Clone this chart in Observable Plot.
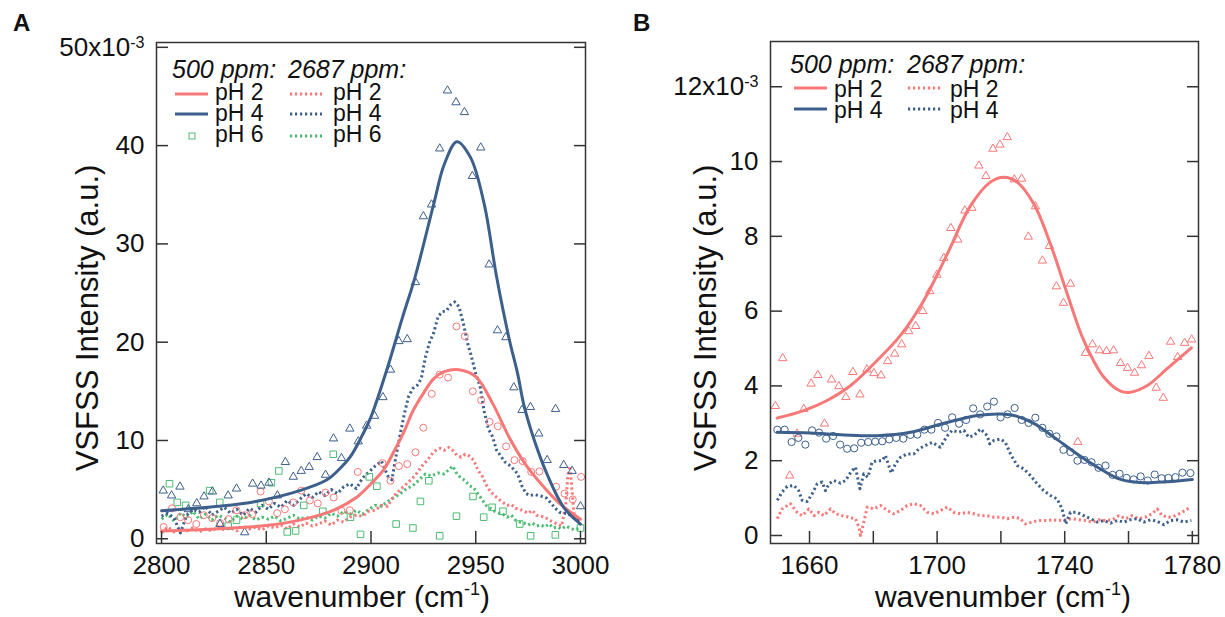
<!DOCTYPE html>
<html><head><meta charset="utf-8">
<script src="https://cdn.jsdelivr.net/npm/d3@7"></script>
<script src="https://cdn.jsdelivr.net/npm/@observablehq/plot@0.6"></script>
<style>
body{margin:0;background:#fff;}
#wrap{position:relative;width:1225px;height:617px;overflow:hidden;background:#fff;}
#wrap svg{position:absolute;top:0;overflow:visible;}
</style></head><body><div id="wrap"></div>
<script>
// ================= DATA (intensities in units of 10^-3 a.u.) =================
// ---- Panel A : 2800-3000 cm-1 ----
const aXTicks = [2800, 2850, 2900, 2950, 3000];
const aYTicks = [0, 10, 20, 30, 40, 50];
const aYTickLabels = ["0", "10", "20", "30", "40", "50x10"];
// 500 ppm fits (solid)
const aFitPH2 = [[2800,0.8],[2825,1.0],[2850,1.35],[2866,1.9],[2882,2.9],[2893,4.2],[2900,5.6],[2906,7.0],[2911,8.9],[2916,11.0],[2920,13.0],[2925,14.8],[2930,16.3],[2935,17.0],[2942,17.2],[2950,16.5],[2958,13.8],[2966,10.3],[2974,7.5],[2982,5.4],[2990,3.6],[3000,2.0]];
const aFitPH4 = [[2800,2.85],[2827,3.3],[2845,3.8],[2866,4.9],[2879,6.0],[2884,6.9],[2890,8.3],[2896,10.6],[2900,12.4],[2908,17.5],[2915,22.5],[2921,26.6],[2930,34.1],[2935,38.1],[2941,40.4],[2947.5,38.8],[2954,34.1],[2960,26.6],[2966,20.3],[2970,16.8],[2973,13.6],[2978,10.0],[2984,6.6],[2992,3.2],[3000,1.5]];
// 500 ppm measured points
const aPtsPH2 = [[2801,1.2],[2805,3.1],[2809,2.2],[2812.7,1.9],[2816.6,1.5],[2820.2,2.4],[2824.2,2.1],[2828,1.6],[2832,2.0],[2835.8,2.9],[2839.8,2.4],[2843.3,2.5],[2847.3,4.8],[2851.3,3.8],[2855.2,2.6],[2858.9,3.0],[2862.9,3.7],[2866.7,4.9],[2870.8,3.9],[2874.6,3.6],[2878.3,4.7],[2882.2,4.2],[2885.9,2.85],[2889.9,2.9],[2893.7,6.8],[2905.5,7.7],[2909.3,5.9],[2913.3,7.4],[2917.3,7.6],[2921.2,8.8],[2925,11.3],[2929,14.75],[2932.8,16.7],[2936.8,16.4],[2940.8,21.6],[2944.8,20.6],[2948.6,15.0],[2952.6,14.1],[2956.6,11.9],[2960.5,11.45],[2964.5,9.4],[2968.5,8.0],[2972.4,7.9],[2976.5,6.8],[2980.4,6.85],[2988.4,5.3],[2992.4,4.6],[2996.3,4.0],[3000.3,6.3]];
const aPtsPH4 = [[2800.8,4.9],[2804.8,4.4],[2808.8,5.3],[2812.8,3.0],[2816.8,3.6],[2820.3,4.3],[2824.3,4.8],[2827.9,1.5],[2831.8,4.4],[2835.8,5.1],[2839.7,0.65],[2843.5,5.6],[2847.5,5.4],[2851.3,5.7],[2855.3,4.4],[2859.1,7.8],[2862.9,6.3],[2866.7,6.9],[2870.5,7.3],[2874.3,8.3],[2878.3,6.5],[2882.1,10.2],[2885.9,8.2],[2889.9,11.2],[2893.9,9.9],[2897.9,11.5],[2901.7,12.5],[2905.7,14.4],[2909.3,17.2],[2913.3,20.1],[2917.3,20.3],[2921.2,26.1],[2925,32.8],[2928.9,34.0],[2932.8,39.7],[2936.5,45.6],[2940.6,44.4],[2944.6,43.4],[2948.4,36.9],[2952.4,39.8],[2956.4,27.9],[2960.4,21.2],[2964.4,20.5],[2968.2,15.4],[2972.1,13.1],[2976.1,13.4],[2980.1,10.7],[2984.1,8.0],[2988.1,13.2],[2992,7.5],[2996,6.9],[3000,3.3]];
const aPtsPH6 = [[2803.8,5.6],[2807.5,3.7],[2811.5,3.4],[2823,4.9],[2827.8,3.7],[2831.8,1.3],[2835.8,1.9],[2847.3,3.6],[2852.5,5.7],[2856,6.9],[2860,0.7],[2864,0.8],[2867.9,3.4],[2877,2.8],[2882,8.6],[2890.2,2.2],[2895,0.45],[2899.2,6.3],[2902.8,5.35],[2912,1.5],[2920,1.1],[2923.6,3.8],[2927.6,5.9],[2932.8,0.3],[2940.8,2.3],[2948.7,4.3],[2953.8,2.2],[2957.8,3.2],[2963,2.8],[2971,1.5],[2976.2,0.3],[2988,0.4],[3000,1.1]];
// 2687 ppm traces (dotted)
const aDotPH2 = [[2800,0.6],[2803,1.2],[2806,0.7],[2809,1.0],[2812,0.8],[2815,1.1],[2818,0.7],[2821,1.0],[2824,0.8],[2827,1.2],[2830,0.9],[2833,1.1],[2836,0.8],[2839,1.3],[2842,1.0],[2845,1.2],[2848,0.9],[2851,1.3],[2854,1.1],[2857,1.4],[2860,1.0],[2863,1.5],[2866,1.2],[2869,1.6],[2872,1.3],[2875,1.5],[2878,1.8],[2881,1.4],[2884,1.9],[2887,1.7],[2890,2.2],[2893,2.4],[2896,2.3],[2899,2.8],[2902,2.9],[2905,3.4],[2908,3.3],[2911,4.4],[2914,5.0],[2917,5.6],[2919,6.0],[2921,6.4],[2923,7.0],[2925,7.6],[2927,8.0],[2929,8.6],[2931,9.0],[2933,9.2],[2935,9.0],[2937,9.3],[2939,9.0],[2941,8.5],[2943,8.3],[2945,8.6],[2947,8.4],[2949,8.0],[2951,7.0],[2953,6.4],[2955,5.5],[2957,4.8],[2959,4.4],[2961,4.0],[2963,3.7],[2965,3.4],[2967,3.5],[2969,3.1],[2971,3.0],[2973,2.8],[2975,2.6],[2977,2.9],[2979,2.4],[2981,2.3],[2983,2.2],[2985,1.9],[2987,1.7],[2989,1.5],[2991,1.3],[2993,3.5],[2994,6.5],[2995,7.4],[2996,4.8],[2997,2.5],[2999,1.8],[3000,2.2]];
const aDotPH4 = [[2800,2.3],[2803,2.6],[2806,2.1],[2809,0.6],[2812,2.4],[2815,3.0],[2818,2.7],[2821,3.3],[2824,2.4],[2827,2.8],[2830,3.2],[2833,2.6],[2836,3.0],[2839,2.4],[2842,3.1],[2845,2.7],[2848,3.4],[2851,3.0],[2854,3.6],[2857,3.2],[2860,3.9],[2863,3.4],[2866,4.0],[2869,4.6],[2872,4.2],[2875,4.8],[2878,4.4],[2881,5.0],[2884,4.6],[2887,5.3],[2890,5.6],[2893,5.1],[2896,6.2],[2899,6.8],[2902,7.4],[2905,7.9],[2908,6.4],[2910,6.0],[2912,8.5],[2914,10.7],[2916,12.8],[2918,14.5],[2920,15.3],[2922,15.6],[2924,16.3],[2926,18.5],[2928,20.0],[2930,21.0],[2932,22.6],[2934,23.1],[2936,23.2],[2938,23.8],[2940,24.1],[2942,23.6],[2944,22.0],[2946,20.0],[2948,18.5],[2950,16.8],[2952,15.6],[2954,13.0],[2956,11.2],[2958,10.4],[2960,9.0],[2962,8.4],[2964,7.8],[2966,7.5],[2968,7.1],[2970,6.6],[2972,5.4],[2974,4.6],[2976,4.4],[2978,4.5],[2980,4.4],[2982,4.3],[2984,4.1],[2986,3.6],[2988,3.1],[2990,2.7],[2992,2.6],[2994,2.6],[2996,2.2],[2998,2.0],[3000,1.8]];
const aDotPH6 = [[2800,2.0],[2803,2.5],[2806,1.8],[2809,2.6],[2812,2.2],[2815,2.8],[2818,2.0],[2821,2.5],[2824,1.9],[2827,2.4],[2830,2.1],[2833,1.7],[2836,2.3],[2839,2.0],[2842,2.4],[2845,1.9],[2848,2.2],[2851,2.0],[2854,2.3],[2857,1.8],[2860,2.1],[2863,2.4],[2866,2.0],[2869,2.2],[2872,1.9],[2875,2.3],[2878,2.1],[2881,2.6],[2884,2.3],[2887,2.8],[2890,2.5],[2893,2.9],[2896,2.5],[2899,3.0],[2902,3.4],[2905,3.3],[2908,3.8],[2911,4.2],[2914,4.6],[2917,5.1],[2920,5.4],[2923,6.0],[2926,6.6],[2929,6.4],[2932,6.7],[2935,6.6],[2937,7.0],[2939,7.4],[2941,6.6],[2943,6.2],[2945,5.9],[2947,5.4],[2949,5.2],[2951,4.6],[2953,4.0],[2955,3.4],[2957,3.1],[2959,2.8],[2961,2.6],[2963,2.5],[2965,2.2],[2967,2.4],[2969,1.9],[2971,1.7],[2973,1.6],[2975,1.4],[2977,1.6],[2979,1.3],[2981,1.4],[2983,1.2],[2985,1.5],[2987,1.1],[2989,1.2],[2991,1.0],[2993,1.3],[2995,1.1],[2997,0.9],[3000,1.1]];

// ---- Panel B : 1650-1780 cm-1 ----
const bXTicks = [1660, 1680, 1700, 1720, 1740, 1760, 1780];
const bXLabelTicks = [1660, 1700, 1740, 1780];
const bYTicks = [0, 2, 4, 6, 8, 10, 12];
const bYTickLabels = ["0", "2", "4", "6", "8", "10", "12x10"];
const bFitPH2 = [[1649.9,3.14],[1658.2,3.34],[1665.5,3.61],[1672.9,4.01],[1681.2,4.68],[1688.5,5.35],[1695.8,6.28],[1703.2,7.53],[1710.5,8.82],[1716.7,9.45],[1720.9,9.58],[1725.1,9.45],[1730.3,8.87],[1735.5,7.8],[1740.8,6.46],[1746,5.21],[1752.3,4.23],[1757.5,3.86],[1760.6,3.83],[1765.9,4.01],[1772.1,4.46],[1779.7,5.02]];
const bFitPH4 = [[1649.9,2.76],[1660.3,2.74],[1670.8,2.69],[1681.2,2.67],[1691.7,2.76],[1702.1,3.0],[1712.6,3.21],[1719.9,3.25],[1724.1,3.21],[1730.3,3.0],[1736.6,2.63],[1743.9,2.18],[1751.2,1.78],[1757.5,1.5],[1764.8,1.41],[1772.1,1.44],[1780,1.5]];
const bPtsPH2 = [[1649.3,3.46],[1651.6,4.74],[1653.8,1.6],[1656.1,2.72],[1658.2,3.38],[1660.5,4.06],[1662.6,4.29],[1664.7,2.99],[1666.9,4.17],[1669.2,3.99],[1671.4,3.70],[1673.6,4.37],[1675.8,3.77],[1678,4.44],[1680.2,4.34],[1682.4,4.28],[1684.5,4.66],[1686.7,4.86],[1688.9,5.11],[1691.1,5.46],[1693.3,5.6],[1695.5,6.0],[1697.7,6.53],[1699.9,6.97],[1702.1,7.42],[1704.3,8.22],[1706.5,7.91],[1708.7,8.69],[1710.9,8.76],[1713.1,9.89],[1715.3,9.61],[1717.5,10.34],[1719.7,10.45],[1722,10.65],[1724.2,9.52],[1726.5,9.54],[1728.6,7.99],[1730.8,8.8],[1733,7.35],[1735.2,7.74],[1737.4,6.66],[1739.6,6.22],[1741.8,6.73],[1744.1,2.5],[1746.5,4.88],[1748.7,5.11],[1750.9,4.95],[1753.1,4.93],[1755.3,4.95],[1757.5,4.61],[1759.7,4.48],[1761.9,4.35],[1764.1,4.55],[1766.4,4.8],[1768.7,3.95],[1770.9,3.68],[1773.2,5.18],[1775.4,4.77],[1777.6,5.15],[1779.8,5.24]];
const bPtsPH4 = [[1649.9,2.83],[1652.2,2.83],[1654.4,2.5],[1656.5,2.61],[1658.7,2.43],[1660.8,2.81],[1663,2.75],[1665.2,2.59],[1667.4,2.66],[1669.6,2.43],[1671.8,2.32],[1674,2.33],[1676.2,2.48],[1678.4,2.5],[1680.6,2.51],[1682.8,2.52],[1685,2.57],[1687.2,2.61],[1689.4,2.59],[1691.6,2.69],[1693.8,2.7],[1696,2.83],[1698.2,2.83],[1700.3,3.01],[1702.5,2.88],[1704.7,3.16],[1706.9,2.99],[1709.1,3.09],[1711.3,3.4],[1713.5,3.24],[1715.7,3.45],[1717.8,3.58],[1719.9,3.16],[1722.1,3.24],[1724.3,3.41],[1726.5,3.09],[1728.7,3.01],[1730.8,3.15],[1733,2.88],[1735.2,2.72],[1737.4,2.65],[1739.6,2.29],[1741.8,2.23],[1744,2.0],[1746.2,2.02],[1748.4,1.96],[1750.6,1.81],[1752.8,1.87],[1755,1.62],[1757.2,1.65],[1759.4,1.54],[1761.6,1.5],[1763.8,1.58],[1766,1.47],[1768.2,1.63],[1770.4,1.53],[1772.5,1.54],[1774.7,1.56],[1776.9,1.68],[1779.4,1.67]];
const bDotPH2 = [[1649.9,0.45],[1651.4,0.71],[1654,0.85],[1656.1,0.62],[1657.7,0.53],[1659.8,0.71],[1661.4,0.53],[1662.9,0.62],[1664.5,0.53],[1666.6,0.71],[1668.2,0.58],[1670.3,0.53],[1672.3,0.49],[1674.4,0.45],[1675.5,0.22],[1676,0.0],[1677,0.36],[1678.1,0.76],[1680.2,0.71],[1682.3,0.8],[1684.4,0.67],[1686.4,0.58],[1688.5,0.67],[1690.6,0.8],[1692.7,0.85],[1694.8,0.8],[1696.9,0.62],[1699,0.58],[1701.1,0.67],[1703.2,0.76],[1705.2,0.62],[1707.3,0.58],[1709.4,0.62],[1711.5,0.58],[1713.6,0.53],[1715.7,0.53],[1717.8,0.49],[1719.9,0.49],[1722,0.45],[1724.1,0.49],[1726.1,0.45],[1727.7,0.31],[1729.8,0.36],[1731.9,0.4],[1734,0.4],[1736.1,0.42],[1738.2,0.4],[1740.3,0.42],[1742.4,0.45],[1744.4,0.42],[1746.5,0.4],[1748.6,0.36],[1750.7,0.42],[1752.8,0.4],[1754.9,0.42],[1757,0.53],[1759.1,0.45],[1761.2,0.53],[1763.2,0.45],[1765.3,0.49],[1767.4,0.58],[1769,0.71],[1770.6,0.53],[1772.6,0.49],[1774.7,0.53],[1776.8,0.62],[1779.4,0.76]];
const bDotPH4 = [[1649.9,0.94],[1651.4,1.16],[1653,1.31],[1655.1,1.34],[1656.6,1.2],[1657.7,0.94],[1659.3,0.91],[1660.8,1.11],[1662.4,1.38],[1664,1.43],[1665,1.2],[1666.1,1.38],[1667.6,1.47],[1669.7,1.4],[1671.3,1.47],[1672.9,1.69],[1674.4,1.83],[1675.8,1.25],[1677,1.65],[1678.3,1.56],[1679.6,1.96],[1681.2,2.0],[1682.8,2.0],[1683.8,2.14],[1685.6,1.67],[1687,1.92],[1688.5,2.09],[1690.6,2.18],[1692.7,2.18],[1694.3,2.32],[1696.4,2.41],[1698.5,2.49],[1701,2.36],[1703.2,2.67],[1704.7,2.81],[1706.8,2.76],[1708.4,2.81],[1709.9,2.63],[1711.5,2.67],[1713.6,2.85],[1715.7,2.67],[1716.5,2.45],[1717.8,2.54],[1719.9,2.58],[1721.4,2.49],[1723,2.18],[1725.1,1.87],[1727.2,1.78],[1729.3,1.6],[1731.4,1.38],[1733.4,1.2],[1735.5,1.07],[1737.6,0.98],[1739.2,0.71],[1740.3,0.31],[1741.8,0.62],[1743.9,0.62],[1746,0.53],[1748.1,0.45],[1750.2,0.36],[1752.3,0.4],[1754.4,0.33],[1756.5,0.4],[1758.5,0.36],[1760.6,0.42],[1762.7,0.45],[1764.8,0.36],[1766.9,0.42],[1769,0.38],[1771.1,0.29],[1773.2,0.4],[1775.3,0.42],[1777.3,0.36],[1779.7,0.4]];

// ================= STYLE =================
const FONT = '"Liberation Sans", Arial, Helvetica, sans-serif';
const RED = "#f87878", BLUE = "#3d5f8c", GREEN = "#4cbb72", INK = "#111", FRAME = "#333";
const X = d => d[0], Y = d => d[1];
const DOTS = "2.2,2.8";
const DOTW = 3;

function axes(xTicks, xLabelTicks, yTicks, yLabels) {
  return [
    Plot.frame({stroke: FRAME, strokeWidth: 1.5}),
    Plot.axisX(xTicks, {anchor: "bottom", tickSize: 12, dy: -12, tickFormat: () => "", stroke: FRAME, strokeWidth: 1.5, label: null}),
    Plot.axisX(xLabelTicks, {anchor: "bottom", tickSize: 0, tickPadding: 12, tickFormat: d => String(d), fill: INK, label: null}),
    Plot.axisY(yTicks, {anchor: "left", tickSize: 12, dx: 12, tickFormat: () => "", stroke: FRAME, strokeWidth: 1.5, label: null}),
    Plot.axisY(yTicks, {anchor: "right", tickSize: 12, dx: -12, tickFormat: () => "", stroke: FRAME, strokeWidth: 1.5, label: null}),
    Plot.axisY(yTicks, {anchor: "left", tickSize: 0, tickPadding: 12, tickFormat: (d) => yLabels[yTicks.indexOf(d)], fill: INK, label: null})
  ];
}

function supify(svg, base, sup) {
  d3.select(svg).selectAll("text").filter(function () { return this.textContent === base; })
    .each(function () {
      d3.select(this).append("tspan").attr("dy", "-0.5em").attr("font-size", "0.62em").text(sup);
    });
}

function addText(svg, x, y, str, opts = {}) {
  return d3.select(svg).append("text").attr("x", x).attr("y", y)
    .attr("font-family", FONT).attr("font-size", opts.size || 26)
    .attr("font-style", opts.italic ? "italic" : null)
    .attr("font-weight", opts.bold ? "bold" : null)
    .attr("fill", INK).attr("text-anchor", opts.anchor || "start").text(str);
}

function xTitle(svg, cx, y) {
  const t = d3.select(svg).append("text").attr("x", cx).attr("y", y)
    .attr("font-family", FONT).attr("font-size", 30).attr("fill", INK).attr("text-anchor", "middle");
  t.append("tspan").text("wavenumber (cm");
  t.append("tspan").attr("dy", -12).attr("font-size", 18).text("-1");
  t.append("tspan").attr("dy", 12).text(")");
}
function yTitle(svg, x, cy) {
  d3.select(svg).append("text").attr("transform", `translate(${x},${cy}) rotate(-90)`)
    .attr("font-family", FONT).attr("font-size", 31).attr("fill", INK).attr("text-anchor", "middle")
    .text("VSFSS Intensity (a.u.)");
}
function legLine(svg, x1, x2, y, color, dotted) {
  d3.select(svg).append("line").attr("x1", x1).attr("x2", x2).attr("y1", y).attr("y2", y)
    .attr("stroke", color).attr("stroke-width", dotted ? DOTW : 3)
    .attr("stroke-dasharray", dotted ? DOTS : null);
}

const wrap = document.getElementById("wrap");

// ================= PANEL A =================
const plotA = Plot.plot({
  width: 612, height: 617,
  marginLeft: 156, marginRight: 27, marginTop: 42, marginBottom: 74,
  x: {domain: [2797.6, 3002.4]},
  y: {domain: [-0.48, 50.49]},
  style: {fontFamily: FONT, fontSize: "26px", color: INK, background: "transparent"},
  marks: [
    Plot.line(aDotPH6, {x: X, y: Y, stroke: GREEN, strokeWidth: DOTW, strokeDasharray: DOTS, strokeLinecap: "butt"}),
    Plot.line(aDotPH2, {x: X, y: Y, stroke: RED, strokeWidth: DOTW, strokeDasharray: DOTS, strokeLinecap: "butt"}),
    Plot.line(aDotPH4, {x: X, y: Y, stroke: BLUE, strokeWidth: DOTW, strokeDasharray: DOTS, strokeLinecap: "butt"}),
    Plot.dot(aPtsPH6, {x: X, y: Y, symbol: "square", r: 3.7, stroke: GREEN, fill: "none", strokeWidth: 1}),
    Plot.dot(aPtsPH2, {x: X, y: Y, symbol: "circle", r: 3.5, stroke: RED, fill: "none", strokeWidth: 1}),
    Plot.dot(aPtsPH4, {x: X, y: Y, symbol: "triangle", r: 3.1, stroke: BLUE, fill: "none", strokeWidth: 1}),
    Plot.line(aFitPH2, {x: X, y: Y, stroke: RED, strokeWidth: 3, curve: "catmull-rom"}),
    Plot.line(aFitPH4, {x: X, y: Y, stroke: BLUE, strokeWidth: 3, curve: "catmull-rom"}),
    ...axes(aXTicks, aXTicks, aYTicks, aYTickLabels)
  ]
});
plotA.style.left = "0px";
wrap.appendChild(plotA);
supify(plotA, "50x10", "-3");
addText(plotA, 13, 31, "A", {size: 24, bold: true});
xTitle(plotA, 362, 607);
yTitle(plotA, 98, 318);
// legend A
addText(plotA, 172, 78, "500 ppm:", {size: 25, italic: true});
addText(plotA, 288, 78, "2687 ppm:", {size: 25, italic: true});
legLine(plotA, 175, 208, 94, RED, false);
legLine(plotA, 175, 208, 114, BLUE, false);
d3.select(plotA).append("rect").attr("x", 189).attr("y", 133).attr("width", 6).attr("height", 6)
  .attr("fill", "none").attr("stroke", GREEN).attr("stroke-width", 1);
legLine(plotA, 290, 322, 94, RED, true);
legLine(plotA, 290, 322, 114, BLUE, true);
legLine(plotA, 290, 322, 136, GREEN, true);
[["pH 2", 100], ["pH 4", 121], ["pH 6", 142]].forEach(([s, y]) => {
  addText(plotA, 215, y, s, {size: 23});
  addText(plotA, 333, y, s, {size: 23});
});

// ================= PANEL B =================
const plotB = Plot.plot({
  width: 613, height: 617,
  marginLeft: 158, marginRight: 27, marginTop: 41, marginBottom: 74,
  x: {domain: [1647.77, 1781.94]},
  y: {domain: [-0.214, 13.21]},
  style: {fontFamily: FONT, fontSize: "26px", color: INK, background: "transparent"},
  marks: [
    Plot.line(bDotPH2, {x: X, y: Y, stroke: RED, strokeWidth: DOTW, strokeDasharray: DOTS, strokeLinecap: "butt"}),
    Plot.line(bDotPH4, {x: X, y: Y, stroke: BLUE, strokeWidth: DOTW, strokeDasharray: DOTS, strokeLinecap: "butt"}),
    Plot.dot(bPtsPH2, {x: X, y: Y, symbol: "triangle", r: 3.1, stroke: RED, fill: "none", strokeWidth: 1}),
    Plot.dot(bPtsPH4, {x: X, y: Y, symbol: "circle", r: 3.6, stroke: BLUE, fill: "none", strokeWidth: 1}),
    Plot.line(bFitPH2, {x: X, y: Y, stroke: RED, strokeWidth: 3, curve: "catmull-rom"}),
    Plot.line(bFitPH4, {x: X, y: Y, stroke: BLUE, strokeWidth: 3, curve: "catmull-rom"}),
    ...axes(bXTicks, bXLabelTicks, bYTicks, bYTickLabels)
  ]
});
plotB.style.left = "612px";
wrap.appendChild(plotB);
supify(plotB, "12x10", "-3");
addText(plotB, 21, 31, "B", {size: 24, bold: true});
xTitle(plotB, 391, 607);
yTitle(plotB, 104, 318);
// legend B
addText(plotB, 178, 73, "500 ppm:", {size: 25, italic: true});
addText(plotB, 295, 73, "2687 ppm:", {size: 25, italic: true});
legLine(plotB, 182, 215, 88, RED, false);
legLine(plotB, 182, 215, 109, BLUE, false);
legLine(plotB, 296, 330, 88, RED, true);
legLine(plotB, 296, 330, 109, BLUE, true);
[["pH 2", 97], ["pH 4", 118]].forEach(([s, y]) => {
  addText(plotB, 222, y, s, {size: 23});
  addText(plotB, 338, y, s, {size: 23});
});
</script>
</body></html>
